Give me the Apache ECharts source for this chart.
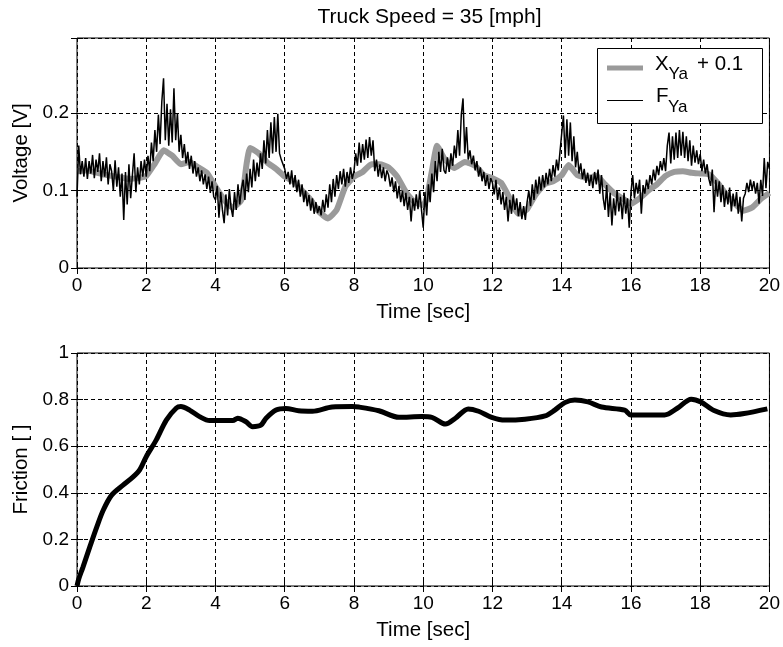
<!DOCTYPE html>
<html>
<head>
<meta charset="utf-8">
<script src="https://cdn.jsdelivr.net/npm/echarts@6/dist/echarts.min.js"></script>
<style>
  html, body { margin: 0; padding: 0; background: #fff; }
  #chart { width: 783px; height: 647px; }
</style>
</head>
<body>
<div id="chart"></div>
<script>
// ---------- data ----------
const titleText = 'Truck Speed = 35 [mph]';
const xTicks = [0, 2, 4, 6, 8, 10, 12, 14, 16, 18, 20];
const voltTicks = [0, 0.1, 0.2];
const fricTicks = [0, 0.2, 0.4, 0.6, 0.8, 1];
const legendNames = ['X', 'Ya', '+ 0.1', 'F', 'Ya'];

// F_Ya (black, sampled every 0.05 s from t = 0)
const fyaDt = 0.05;
const fyaValues = [
  0.092,0.158,0.121,0.138,0.118,0.142,0.115,0.138,0.122,0.146,0.116,0.140,0.124,0.148,0.112,0.138,0.118,0.143,0.108,0.134,
  0.125,0.100,0.139,0.105,0.130,0.092,0.122,0.062,0.124,0.082,0.134,0.090,0.120,0.148,0.098,0.130,0.108,0.138,0.118,0.140,
  0.118,0.145,0.125,0.162,0.138,0.178,0.150,0.198,0.160,0.215,0.245,0.165,0.212,0.158,0.205,0.162,0.232,0.165,0.200,0.150,
  0.172,0.142,0.160,0.135,0.150,0.128,0.145,0.122,0.138,0.118,0.130,0.112,0.126,0.108,0.121,0.102,0.118,0.097,0.112,0.092,
  0.088,0.106,0.065,0.098,0.075,0.058,0.095,0.068,0.102,0.078,0.066,0.098,0.075,0.108,0.082,0.102,0.114,0.088,0.122,0.098,
  0.128,0.104,0.140,0.112,0.136,0.118,0.148,0.128,0.165,0.135,0.178,0.142,0.188,0.148,0.195,0.150,0.199,0.148,0.140,0.134,
  0.128,0.115,0.124,0.108,0.126,0.104,0.120,0.098,0.114,0.092,0.108,0.085,0.100,0.080,0.094,0.074,0.090,0.070,0.085,0.071,
  0.080,0.068,0.088,0.072,0.095,0.078,0.108,0.085,0.115,0.092,0.120,0.102,0.125,0.108,0.128,0.105,0.124,0.110,0.130,0.115,
  0.125,0.148,0.132,0.162,0.136,0.160,0.140,0.166,0.142,0.169,0.145,0.165,0.125,0.140,0.118,0.134,0.116,0.130,0.112,0.126,
  0.120,0.105,0.117,0.098,0.112,0.090,0.106,0.085,0.100,0.080,0.097,0.075,0.092,0.060,0.090,0.074,0.095,0.076,0.100,0.075,
  0.052,0.098,0.068,0.108,0.085,0.122,0.098,0.138,0.112,0.150,0.124,0.154,0.126,0.122,0.143,0.124,0.148,0.132,0.158,0.142,
  0.178,0.145,0.198,0.219,0.148,0.182,0.140,0.152,0.134,0.145,0.126,0.138,0.118,0.130,0.112,0.124,0.106,0.120,0.102,0.116,
  0.110,0.095,0.114,0.088,0.104,0.082,0.098,0.075,0.092,0.060,0.088,0.070,0.095,0.075,0.090,0.067,0.085,0.063,0.080,0.062,
  0.085,0.100,0.080,0.108,0.088,0.114,0.096,0.118,0.100,0.120,0.104,0.123,0.108,0.128,0.112,0.133,0.118,0.140,0.126,0.150,
  0.148,0.197,0.142,0.192,0.145,0.188,0.138,0.170,0.130,0.150,0.122,0.135,0.115,0.128,0.110,0.123,0.106,0.120,0.103,0.124,
  0.108,0.127,0.096,0.120,0.090,0.075,0.107,0.066,0.097,0.055,0.090,0.068,0.100,0.073,0.092,0.063,0.097,0.070,0.090,0.052,
  0.097,0.120,0.090,0.110,0.096,0.114,0.070,0.107,0.096,0.114,0.102,0.120,0.108,0.127,0.113,0.132,0.120,0.138,0.126,0.142,
  0.125,0.158,0.175,0.135,0.170,0.140,0.175,0.142,0.178,0.145,0.176,0.142,0.170,0.138,0.165,0.132,0.158,0.136,0.152,0.134,
  0.147,0.125,0.140,0.122,0.134,0.115,0.106,0.127,0.072,0.114,0.092,0.112,0.085,0.107,0.079,0.100,0.082,0.104,0.073,0.096,
  0.080,0.098,0.070,0.092,0.060,0.090,0.096,0.110,0.098,0.114,0.101,0.112,0.096,0.110,0.083,0.114,0.093,0.142,0.103,0.137,
  0.128
];

// X_Ya + 0.1 (grey)
const xyaTime = [0,0.25,0.5,0.75,1,1.25,1.5,1.75,2,2.25,2.5,2.75,3,3.25,3.5,3.75,4,4.25,4.5,4.75,4.9,5,5.25,5.5,5.75,6,6.25,6.5,6.75,7,7.25,7.5,7.75,8,8.25,8.5,8.75,9,9.25,9.5,9.75,10,10.1,10.25,10.4,10.6,10.9,11.2,11.5,11.75,12,12.25,12.5,12.75,13,13.25,13.5,13.75,14,14.2,14.45,14.75,15,15.25,15.5,15.75,16,16.25,16.5,16.75,17,17.25,17.5,17.75,18,18.25,18.5,18.75,19,19.25,19.5,19.75,20];
const xyaValues = [0.125,0.126,0.124,0.121,0.119,0.117,0.115,0.116,0.119,0.135,0.152,0.145,0.134,0.137,0.130,0.123,0.105,0.088,0.078,0.088,0.135,0.155,0.148,0.136,0.128,0.118,0.112,0.100,0.088,0.072,0.064,0.075,0.105,0.118,0.124,0.134,0.134,0.130,0.118,0.098,0.085,0.081,0.090,0.125,0.158,0.142,0.129,0.137,0.132,0.120,0.116,0.110,0.090,0.070,0.076,0.095,0.108,0.112,0.120,0.133,0.120,0.116,0.119,0.108,0.097,0.090,0.083,0.090,0.100,0.108,0.119,0.124,0.125,0.123,0.122,0.121,0.110,0.095,0.083,0.074,0.078,0.089,0.097];

// Friction
const fricTime = [0,0.05,0.17,0.37,0.57,0.76,1.0,1.33,1.62,1.81,2.0,2.29,2.58,2.87,3.0,3.25,3.54,3.83,4.5,4.64,4.88,5.07,5.31,5.46,5.75,6.03,6.4,6.8,7.37,7.95,8.14,8.72,9.3,9.96,10.25,10.64,10.93,11.3,11.6,11.98,12.36,12.94,13.52,13.8,14.09,14.38,14.76,15.15,15.82,16.0,16.97,17.35,17.74,18.02,18.4,18.88,19.27,19.94];
const fricValues = [0,0.03,0.08,0.168,0.253,0.326,0.39,0.433,0.468,0.498,0.555,0.627,0.712,0.764,0.77,0.755,0.727,0.71,0.71,0.72,0.705,0.684,0.69,0.72,0.755,0.762,0.752,0.75,0.768,0.77,0.768,0.752,0.724,0.727,0.724,0.695,0.72,0.76,0.75,0.724,0.712,0.716,0.73,0.755,0.787,0.798,0.79,0.768,0.755,0.734,0.734,0.764,0.802,0.79,0.753,0.734,0.74,0.76];

// ---------- build ----------
const fyaData = fyaValues.map((v, i) => [+(i * fyaDt).toFixed(2), v]);
const xyaData = xyaTime.map((t, i) => [t, xyaValues[i]]);
const fricData = fricTime.map((t, i) => [t, fricValues[i]]);

const FONT = 'Liberation Sans, Arial, Helvetica, sans-serif';
const TXT = '#000';
const GREY = '#9a9a9a';
const tickFont = { color: TXT, fontSize: 19, fontFamily: FONT };

function xAx(gridIndex, pos, main) {
  return {
    type: 'value', gridIndex, position: pos, min: xTicks[0], max: xTicks[xTicks.length - 1], interval: 2,
    name: main ? 'Time [sec]' : '', nameLocation: 'middle', nameGap: 34,
    nameTextStyle: { color: TXT, fontSize: 20.5, fontFamily: FONT },
    axisLine: { show: false },
    axisTick: { show: true, inside: true, length: 6, lineStyle: { color: '#000' } },
    axisLabel: { show: main, margin: 8, ...tickFont },
    splitLine: { show: main, lineStyle: { color: '#000', width: 1, type: [4, 3] } }
  };
}
function yAx(gridIndex, pos, main, name, max, interval, ticks) {
  return {
    type: 'value', gridIndex, position: pos, min: 0, max, interval,
    name: main ? name : '', nameLocation: 'middle', nameGap: 42,
    nameTextStyle: { color: TXT, fontSize: 20.5, fontFamily: FONT },
    axisLine: { show: false },
    axisTick: { show: true, inside: true, length: 6, lineStyle: { color: '#000' } },
    axisLabel: {
      show: main, margin: 8, ...tickFont,
      formatter: v => ticks.some(t => Math.abs(t - v) < 1e-9) ? String(v) : ''
    },
    splitLine: { show: main, lineStyle: { color: '#000', width: 1, type: [4, 3] } }
  };
}

const chart = echarts.init(document.getElementById('chart'), null, { renderer: 'canvas' });
const legendText = (txt, x, y, size) => ({
  type: 'text', x, y, z: 101,
  style: { text: txt, fill: TXT, font: size + 'px ' + FONT, textVerticalAlign: 'middle', verticalAlign: 'middle' }
});
chart.setOption({
  animation: false,
  backgroundColor: '#fff',
  title: {
    text: titleText, left: 424.5, top: 2, textAlign: 'center',
    textStyle: { color: TXT, fontSize: 21, fontWeight: 'normal', fontFamily: FONT }
  },
  grid: [
    { left: 77, top: 38, width: 695, height: 230, show: true, borderColor: '#000', borderWidth: 1, backgroundColor: 'transparent' },
    { left: 77, top: 353, width: 695, height: 233, show: true, borderColor: '#000', borderWidth: 1, backgroundColor: 'transparent' }
  ],
  xAxis: [
    xAx(0, 'bottom', true), xAx(0, 'top', false),
    xAx(1, 'bottom', true), xAx(1, 'top', false)
  ],
  yAxis: [
    yAx(0, 'left', true, 'Voltage [V]', 0.297, 0.1, voltTicks), yAx(0, 'right', false, '', 0.297, 0.1, voltTicks),
    yAx(1, 'left', true, 'Friction [ ]', 1, 0.2, fricTicks), yAx(1, 'right', false, '', 1, 0.2, fricTicks)
  ],
  graphic: [
    { type: 'rect', z: 100, shape: { x: 597.5, y: 48.5, width: 165, height: 75 }, style: { fill: '#fff', stroke: '#000', lineWidth: 1 } },
    { type: 'line', z: 101, shape: { x1: 607, y1: 68, x2: 643, y2: 68 }, style: { stroke: GREY, lineWidth: 5 } },
    { type: 'line', z: 101, shape: { x1: 607, y1: 100.5, x2: 643, y2: 100.5 }, style: { stroke: '#000', lineWidth: 1 } },
    legendText(legendNames[0], 655, 64, 20.5),
    legendText(legendNames[1], 668.5, 74.5, 17),
    legendText(legendNames[2], 697, 64, 20.5),
    legendText(legendNames[3], 656, 96, 20.5),
    legendText(legendNames[4], 668, 107, 17)
  ],
  series: [
    {
      name: 'X_Ya + 0.1', type: 'line', xAxisIndex: 0, yAxisIndex: 0, data: xyaData,
      showSymbol: false, symbol: 'none', smooth: 0.15,
      lineStyle: { color: GREY, width: 6 }, itemStyle: { color: GREY }, z: 2
    },
    {
      name: 'F_Ya', type: 'line', xAxisIndex: 0, yAxisIndex: 0, data: fyaData,
      showSymbol: false, symbol: 'none',
      lineStyle: { color: '#000', width: 1.5 }, itemStyle: { color: '#000' }, z: 3
    },
    {
      name: 'Friction', type: 'line', xAxisIndex: 2, yAxisIndex: 2, data: fricData,
      showSymbol: false, symbol: 'none', smooth: 0.3,
      lineStyle: { color: '#000', width: 5 }, itemStyle: { color: '#000' }, z: 3
    }
  ]
});
</script>
</body>
</html>
